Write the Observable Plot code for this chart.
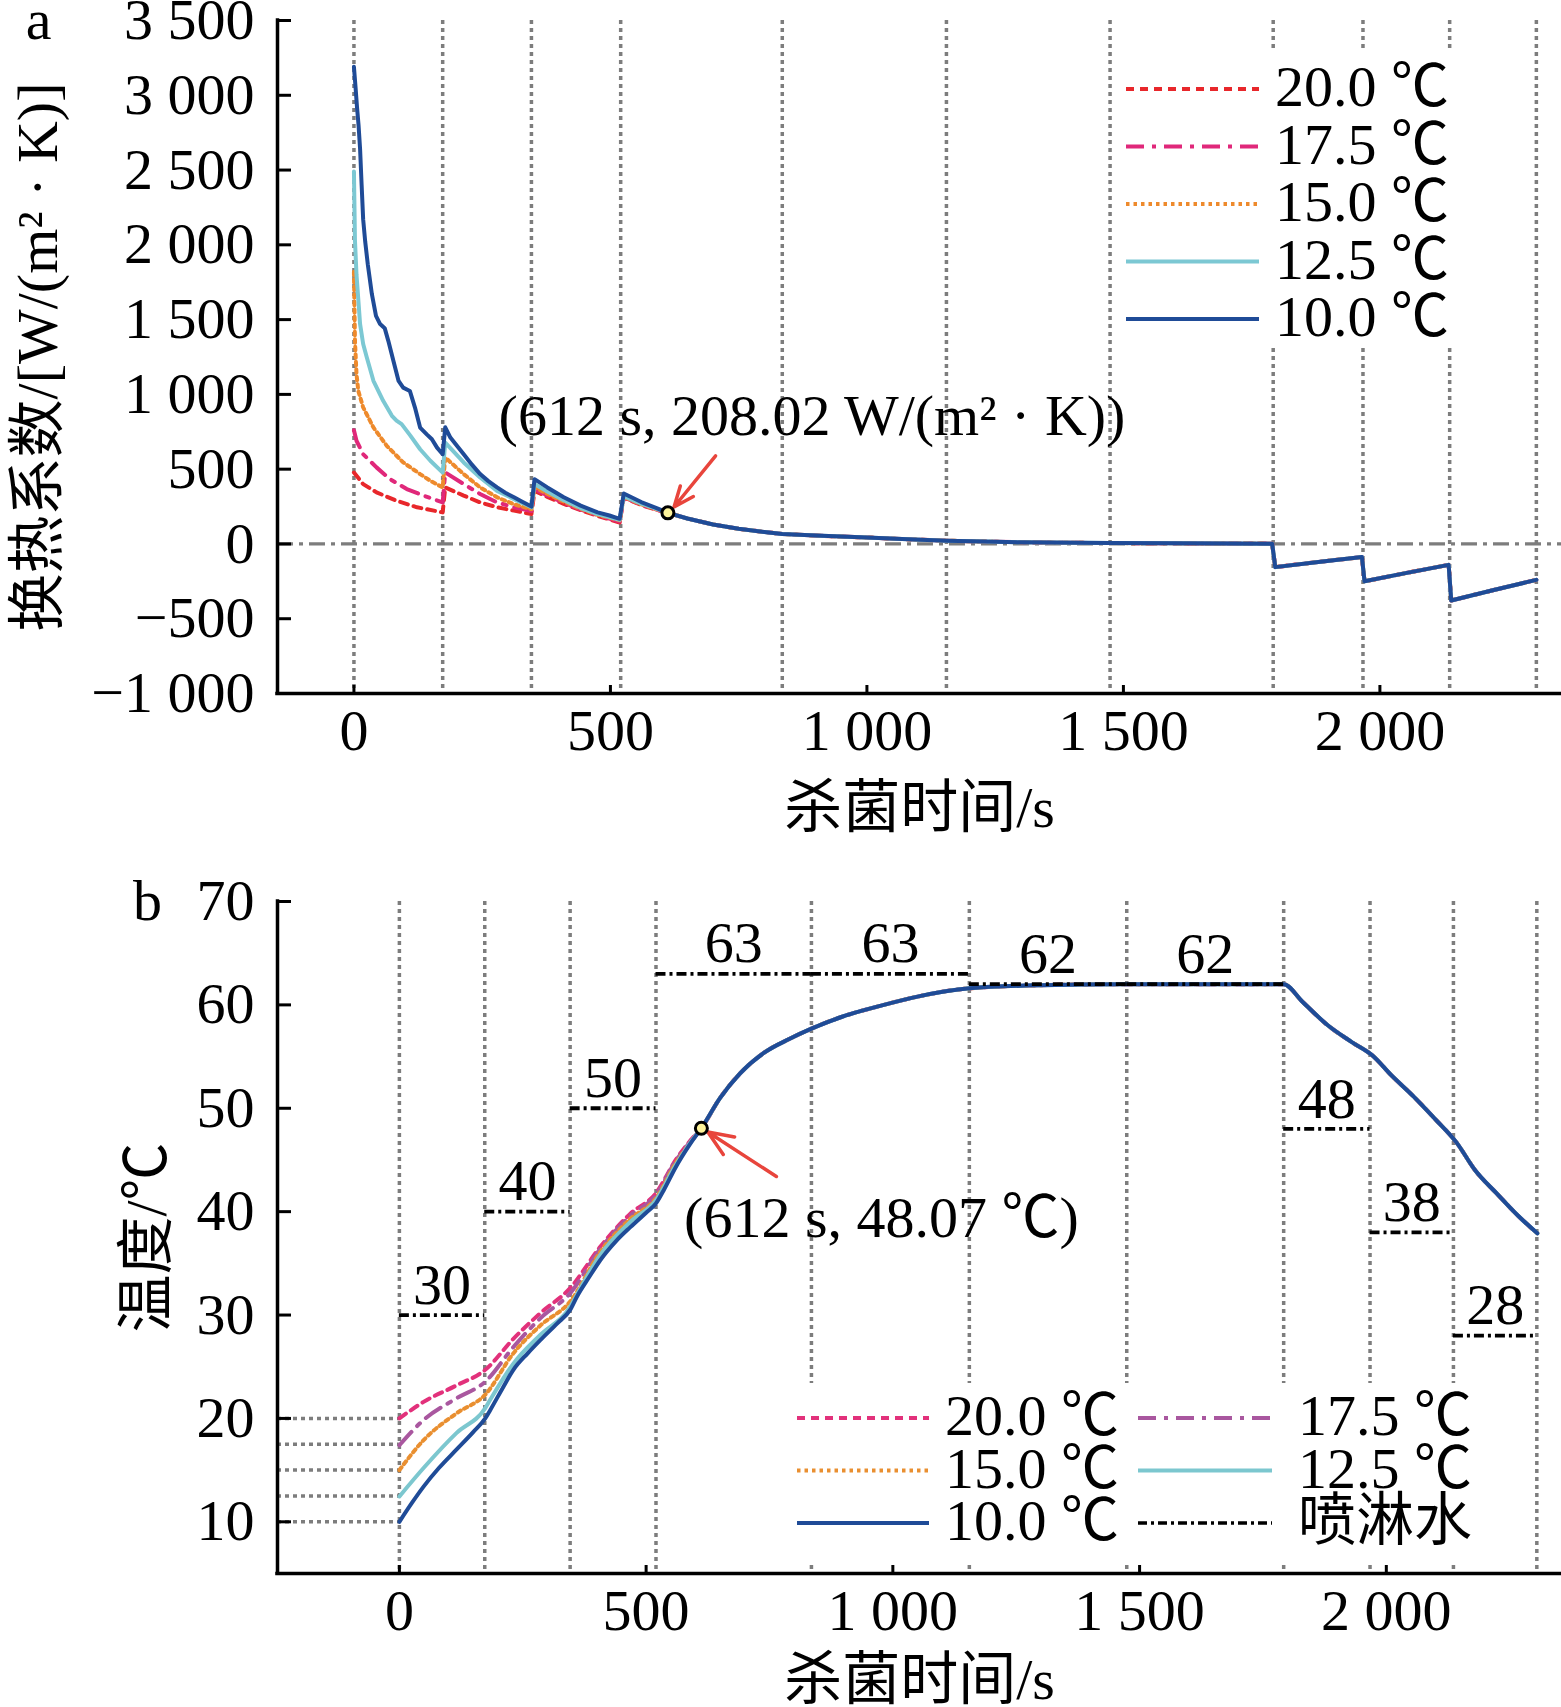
<!DOCTYPE html>
<html><head><meta charset="utf-8">
<script src="https://cdn.jsdelivr.net/npm/d3@7"></script>
<script src="https://cdn.jsdelivr.net/npm/@observablehq/plot@0.6"></script>
<style>
body{margin:0;background:#fff;}
#wrap{position:relative;width:1561px;height:1707px;overflow:hidden;background:#fff;}
#wrap svg{position:absolute;left:0;}
</style></head><body><div id="wrap"></div>
<script>
const FONT = '"Liberation Serif","Times New Roman","Noto Sans CJK SC",serif';
const FS = 58;

// ---- shared data ----
const stageBounds = [0, 173, 346, 520, 835, 1155, 1474, 1792, 1967, 2136, 2305];
const sprayTemps = [30, 40, 50, 63, 63, 62, 62, 48, 38, 28];
const initTemps = [20, 17.5, 15, 12.5, 10];
const xTicks = [0, 500, 1000, 1500, 2000];
const yTicksA = [-1000, -500, 0, 500, 1000, 1500, 2000, 2500, 3000, 3500];
const yTicksB = [10, 20, 30, 40, 50, 60, 70];
const seriesLabels = ["20.0 ℃", "17.5 ℃", "15.0 ℃", "12.5 ℃", "10.0 ℃"];
const sprayLabel = "喷淋水";
const xLabel = "杀菌时间/s";
const yLabelA = "换热系数/[W/(m² · K)]";
const yLabelB = "温度/℃";

// ---- panel a: heat transfer coefficient ----
const hA20 = [[0,477],[18,400],[44,345],[83,289],[123,245],[173,211],[178,378],[214,323],[246,278],[279,245],[312,223],[346,200],[352,354],[377,315],[409,268],[442,225],[475,188],[518,143],[526,310],[560,260],[590,228]];
const hA175 = [[0,760],[5,690],[18,600],[44,512],[70,434],[103,367],[136,323],[173,278],[178,478],[214,400],[246,334],[279,278],[312,245],[346,220],[352,368],[377,325],[409,275],[442,230],[475,192],[518,150],[526,312],[560,262],[590,230]];
const hA15 = [[0,1820],[2,1359],[5,1136],[8.5,1024],[18,913],[38,779],[64,656],[96,545],[129,467],[150,420],[173,378],[178,578],[214,467],[246,378],[279,312],[312,265],[346,232],[352,380],[377,335],[409,283],[442,235],[475,195],[518,158],[526,315],[560,265],[590,232]];
const hA125 = [[0,2490],[2,2030],[5,1800],[12,1470],[18,1337],[25,1248],[38,1091],[57,957],[74,857],[83,824],[93,801],[110,724],[129,633],[149,556],[173,477],[178,678],[214,545],[246,444],[279,355],[312,300],[346,245],[352,400],[377,350],[409,292],[442,240],[475,200],[518,162],[526,320],[560,270],[590,235]];
const hA10 = [[0,3190],[3,3060],[6,2920],[9,2800],[12,2640],[15,2400],[18,2170],[22,2020],[27,1870],[35,1670],[43,1525],[51,1470],[60,1443],[67,1358],[77,1224],[87,1090],[96,1045],[109,1023],[119,912],[129,778],[142,733],[152,700],[162,644],[173,600],[178,780],[188,711],[200,660],[214,600],[230,530],[246,467],[262,420],[279,378],[295,342],[312,312],[328,282],[346,250],[352,433],[377,378],[409,312],[442,256],[475,211],[498,190],[518,168],[526,337],[560,280],[590,240]];
const hATail = [[612,208.02],[650,170],[700,130],[750,101],[800,80],[835,67],[900,56],[1000,43],[1080,31],[1155,22],[1250,14],[1350,9],[1474,6],[1600,4],[1700,3],[1790,2],[1796,-155],[1880,-120],[1965,-88],[1970,-250],[2050,-195],[2134,-140],[2139,-378],[2220,-310],[2305,-240]];
const pointA = {t: 612, v: 208.02, text: "(612 s, 208.02 W/(m² · K))"};
const arrowA = {t1: 705, v1: 589, t2: 624, v2: 247};
const labelPosA = {t: 282, v: 850};

// ---- panel b: temperature ----
const TB20 = [[0,20],[49,21.6],[116,23.2],[174,24.7],[231,27.7],[286,30.2],[346,32.6],[407,36.6],[468,39.8],[520,41.8],[560,45.0],[590,46.9]];
const TB175 = [[0,17.4],[49,19.85],[116,21.95],[174,23.55],[231,26.9],[286,29.7],[346,32.1],[407,36.4],[468,39.6],[520,41.6],[560,44.9],[590,46.8]];
const TB15 = [[0,15.0],[49,17.9],[116,20.5],[174,22.3],[231,26.3],[286,29.0],[346,31.3],[407,36.1],[468,39.3],[520,41.3],[560,44.7],[590,46.7]];
const TB125 = [[0,12.45],[49,15.2],[116,18.6],[174,21.0],[184,21.8],[231,25.3],[286,28.1],[346,30.8],[360,32.0],[407,35.8],[468,39.0],[520,41.1],[560,44.5],[590,46.7]];
const TB10 = [[0,10],[25,11.8],[49,13.4],[80,15.2],[116,17.0],[150,18.7],[174,20.0],[184,20.8],[210,23.0],[231,24.7],[260,26.3],[286,27.6],[320,29.2],[346,30.5],[360,31.8],[385,33.7],[407,35.3],[440,37.2],[468,38.5],[500,39.9],[520,40.8],[536,42.1],[560,44.3],[590,46.6]];
const TBTail = [[612,48.07],[650,51.0],[690,53.35],[740,55.4],[790,56.7],[835,57.7],[900,58.9],[974,59.9],[1050,60.8],[1155,61.6],[1300,61.9],[1474,62],[1792,62],[1830,60.3],[1882,58.0],[1930,56.4],[1972,55.1],[2010,53.2],[2054,51.2],[2100,48.9],[2142,46.7],[2180,44.0],[2225,41.7],[2265,39.7],[2306,37.9]];
const pointB = {t: 612, v: 48.07, text: "(612 s, 48.07 ℃)"};
const arrowB = {t1: 764, v1: 43.4, t2: 625, v2: 47.7};
const labelPosB = {t: 577, v: 39.3};

// ---- styles ----
const colorsA = ["#e8272b", "#e0287a", "#ee8a2c", "#7cc8d3", "#1f4b97"];
const colorsB = ["#e2317b", "#a9579f", "#e98f30", "#7cc7cf", "#1f4b97"];
const dashes = ["8,6", "18,8,4,8", "3.5,4", null, null];
const widths = [4, 4, 4, 4, 4];
const GRID = "#7d7d7d";

const fmtNum = d => {
  const a = Math.abs(d);
  const s = a >= 1000 ? d3.format(",")(a).replace(/,/g, " ") : String(a);
  return (d < 0 ? "\u2212" : "") + s;
};

function toRows(arr) { return arr.map(([t, v]) => ({t, v})); }

function axisMarks(xDom, yDom, yTicks) {
  return [
    Plot.ruleX([xDom[0]], {stroke: "#000", strokeWidth: 3.5, strokeLinecap: "square"}),
    Plot.ruleY([yDom[0]], {stroke: "#000", strokeWidth: 3.5, strokeLinecap: "square"}),
    Plot.axisX({ticks: xTicks, tickSize: 8, dy: -8, tickFormat: () => "", strokeWidth: 3}),
    Plot.axisX({ticks: xTicks, tickSize: 0, tickPadding: 15, tickFormat: fmtNum, fontSize: FS}),
    Plot.axisY({ticks: yTicks, tickSize: 14, dx: 14, tickFormat: () => "", strokeWidth: 3}),
    Plot.axisY({ticks: yTicks, tickSize: 0, tickPadding: 23, tickFormat: fmtNum, fontSize: FS})
  ];
}

const wrap = document.getElementById("wrap");

// ================= Panel a =================
const xDomA = [-149, 2354], yDomA = [-1000, 3500];
const seriesA = [hA20, hA175, hA15, hA125, hA10].map(a => toRows(a.concat(hATail)));
const plotA = Plot.plot({
  width: 1561, height: 850,
  marginLeft: 277, marginRight: 0, marginTop: 20, marginBottom: 157,
  style: {fontFamily: FONT, fontSize: FS + "px", color: "#000", background: "transparent", overflow: "visible"},
  x: {domain: xDomA, axis: null},
  y: {domain: yDomA, axis: null},
  marks: [
    Plot.ruleY([0], {stroke: GRID, strokeWidth: 3.2, strokeDasharray: "16,6,4,6"}),
    Plot.ruleX(stageBounds, {stroke: GRID, strokeWidth: 3.5, strokeDasharray: "4,4"}),
    ...seriesA.map((rows, i) => Plot.line(rows, {x: "t", y: "v", stroke: colorsA[i], strokeWidth: widths[i], strokeDasharray: dashes[i]})),
    Plot.arrow([arrowA], {x1: "t1", y1: "v1", x2: "t2", y2: "v2", stroke: "#e8453c", strokeWidth: 3.5, headLength: 22, headAngle: 45}),
    Plot.dot([pointA], {x: "t", y: "v", r: 6, fill: "#fdf39b", stroke: "#000", strokeWidth: 3}),
    Plot.text([pointA], {x: () => labelPosA.t, y: () => labelPosA.v, text: "text", textAnchor: "start", lineAnchor: "middle", fontSize: FS}),
    ...axisMarks(xDomA, yDomA, yTicksA),
    Plot.text([xLabel], {frameAnchor: "bottom", dy: 115, lineAnchor: "middle", textAnchor: "middle", text: d => d, fontSize: FS}),
    Plot.text([yLabelA], {frameAnchor: "left", dx: -239, rotate: -90, lineAnchor: "middle", textAnchor: "middle", text: d => d, fontSize: FS}),
    Plot.text(["a"], {frameAnchor: "top-left", dx: -239, dy: 0, lineAnchor: "middle", textAnchor: "middle", text: d => d, fontSize: FS})
  ]
});
plotA.style.top = "0px";
wrap.appendChild(plotA);

// legend a
{
  const g = d3.select(plotA).append("g").attr("font-family", FONT).attr("font-size", FS).attr("text-anchor", "start");
  g.append("rect").attr("x", 1115).attr("y", 51).attr("width", 340).attr("height", 296).attr("fill", "#fff");
  seriesLabels.forEach((lab, i) => {
    const y = 89 + i * 57.5;
    g.append("line").attr("x1", 1126).attr("x2", 1259).attr("y1", y).attr("y2", y)
      .attr("stroke", colorsA[i]).attr("stroke-width", widths[i]).attr("stroke-dasharray", dashes[i]);
    g.append("text").attr("x", 1275).attr("y", y + 17).attr("text-anchor", "start").text(lab);
  });
}

// ================= Panel b =================
const xDomB = [-247, 2355], yDomB = [5, 70];
const seriesB = [TB20, TB175, TB15, TB125, TB10].map(a => toRows(a.concat(TBTail)));
const sprayRows = sprayTemps.map((temp, i) => ({t0: stageBounds[i], t1: stageBounds[i + 1], temp}));
const plotB = Plot.plot({
  width: 1561, height: 857,
  marginLeft: 277, marginRight: 0, marginTop: 51, marginBottom: 134,
  style: {fontFamily: FONT, fontSize: FS + "px", color: "#000", background: "transparent", overflow: "visible"},
  x: {domain: xDomB, axis: null},
  y: {domain: yDomB, axis: null},
  marks: [
    Plot.ruleX(stageBounds, {stroke: GRID, strokeWidth: 3.5, strokeDasharray: "4,4"}),
    Plot.ruleY(initTemps, {x1: xDomB[0], x2: 0, stroke: GRID, strokeWidth: 3.5, strokeDasharray: "4,4"}),
    ...seriesB.map((rows, i) => Plot.line(rows, {x: "t", y: "v", stroke: colorsB[i], strokeWidth: widths[i], strokeDasharray: dashes[i], curve: "monotone-x"})),
    Plot.ruleY(sprayRows, {x1: "t0", x2: "t1", y: "temp", stroke: "#000", strokeWidth: 3.8, strokeDasharray: "10,4,3,4"}),
    Plot.text(sprayRows, {x: d => (d.t0 + d.t1) / 2, y: "temp", text: d => String(d.temp), dy: -30, lineAnchor: "middle", fontSize: FS}),
    Plot.arrow([arrowB], {x1: "t1", y1: "v1", x2: "t2", y2: "v2", stroke: "#e8453c", strokeWidth: 3.5, headLength: 22, headAngle: 45}),
    Plot.dot([pointB], {x: "t", y: "v", r: 6, fill: "#fdf39b", stroke: "#000", strokeWidth: 3}),
    Plot.text([pointB], {x: () => labelPosB.t, y: () => labelPosB.v, text: "text", textAnchor: "start", lineAnchor: "middle", fontSize: FS}),
    ...axisMarks(xDomB, yDomB, yTicksB),
    Plot.text([xLabel], {frameAnchor: "bottom", dy: 107, lineAnchor: "middle", textAnchor: "middle", text: d => d, fontSize: FS}),
    Plot.text([yLabelB], {frameAnchor: "left", dx: -130, rotate: -90, lineAnchor: "middle", textAnchor: "middle", text: d => d, fontSize: FS}),
    Plot.text(["b"], {frameAnchor: "top-left", dx: -130, dy: 0, lineAnchor: "middle", textAnchor: "middle", text: d => d, fontSize: FS})
  ]
});
plotB.style.top = "850px";
wrap.appendChild(plotB);

// legend b
{
  const g = d3.select(plotB).append("g").attr("font-family", FONT).attr("font-size", FS).attr("text-anchor", "start");
  g.append("rect").attr("x", 790).attr("y", 533).attr("width", 700).attr("height", 178).attr("fill", "#fff");
  const items = [
    {lab: seriesLabels[0], c: colorsB[0], d: dashes[0], w: widths[0], col: 0, row: 0},
    {lab: seriesLabels[1], c: colorsB[1], d: dashes[1], w: widths[1], col: 1, row: 0},
    {lab: seriesLabels[2], c: colorsB[2], d: dashes[2], w: widths[2], col: 0, row: 1},
    {lab: seriesLabels[3], c: colorsB[3], d: dashes[3], w: widths[3], col: 1, row: 1},
    {lab: seriesLabels[4], c: colorsB[4], d: dashes[4], w: widths[4], col: 0, row: 2},
    {lab: sprayLabel, c: "#000", d: "9,4,3,4", w: 3.5, col: 1, row: 2}
  ];
  const colX = [[797, 929, 945], [1138, 1272, 1298]];
  items.forEach(it => {
    const y = 568 + it.row * 52.5;
    const [a, b, tx] = colX[it.col];
    g.append("line").attr("x1", a).attr("x2", b).attr("y1", y).attr("y2", y)
      .attr("stroke", it.c).attr("stroke-width", it.w).attr("stroke-dasharray", it.d);
    g.append("text").attr("x", tx).attr("y", y + 17).attr("text-anchor", "start").text(it.lab);
  });
}
</script></body></html>
